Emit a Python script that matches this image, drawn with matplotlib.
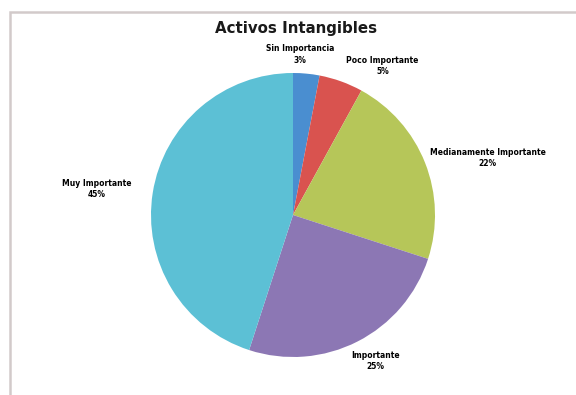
import matplotlib
matplotlib.use("Agg")
import matplotlib.pyplot as plt
from matplotlib.patches import Rectangle

title = "Activos Intangibles"
categories = ["Sin Importancia", "Poco Importante", "Medianamente Importante",
              "Importante", "Muy Importante"]
values = [3, 5, 22, 25, 45]
colors = ["#4A8ED0", "#D9534F", "#B6C659", "#8C77B4", "#5CC0D5"]

# layout (label anchor positions in pie-radius units)
label_pos = [(0.05, 1.13), (0.63, 1.05), (1.37, 0.40), (0.58, -1.03), (-1.38, 0.18)]

W, H = 576, 395
cx, cy, R = 293, 215, 142

fig = plt.figure(figsize=(W / 100, H / 100), dpi=100)
fig.patch.set_facecolor("white")

ax = fig.add_axes([0, 0, 1, 1])
wedges, _ = ax.pie(values, colors=colors, startangle=90, counterclock=False,
                   wedgeprops=dict(linewidth=0))
ax.set_xlim(-cx / R, (W - cx) / R)
ax.set_ylim(-(H - cy) / R, cy / R)
ax.set_aspect("auto")
ax.axis("off")

for cat, v, (lx, ly) in zip(categories, values, label_pos):
    ax.text(lx, ly, f"{cat}\n{v}%", ha="center", va="center",
            fontsize=5.5, fontweight="bold", color="black", linespacing=1.3)

fig.text(296 / W, 1 - 29 / H, title, ha="center", va="center",
         fontsize=10.8, fontweight="bold", color="#1A1A1A")

# chart frame
fig.patches.append(Rectangle((10 / W, -0.1), 1.2, (H - 12) / H + 0.1,
                             transform=fig.transFigure, fill=False,
                             edgecolor="#D2CACA", linewidth=1.8))

fig.savefig("out.png", dpi=100, facecolor="white")
